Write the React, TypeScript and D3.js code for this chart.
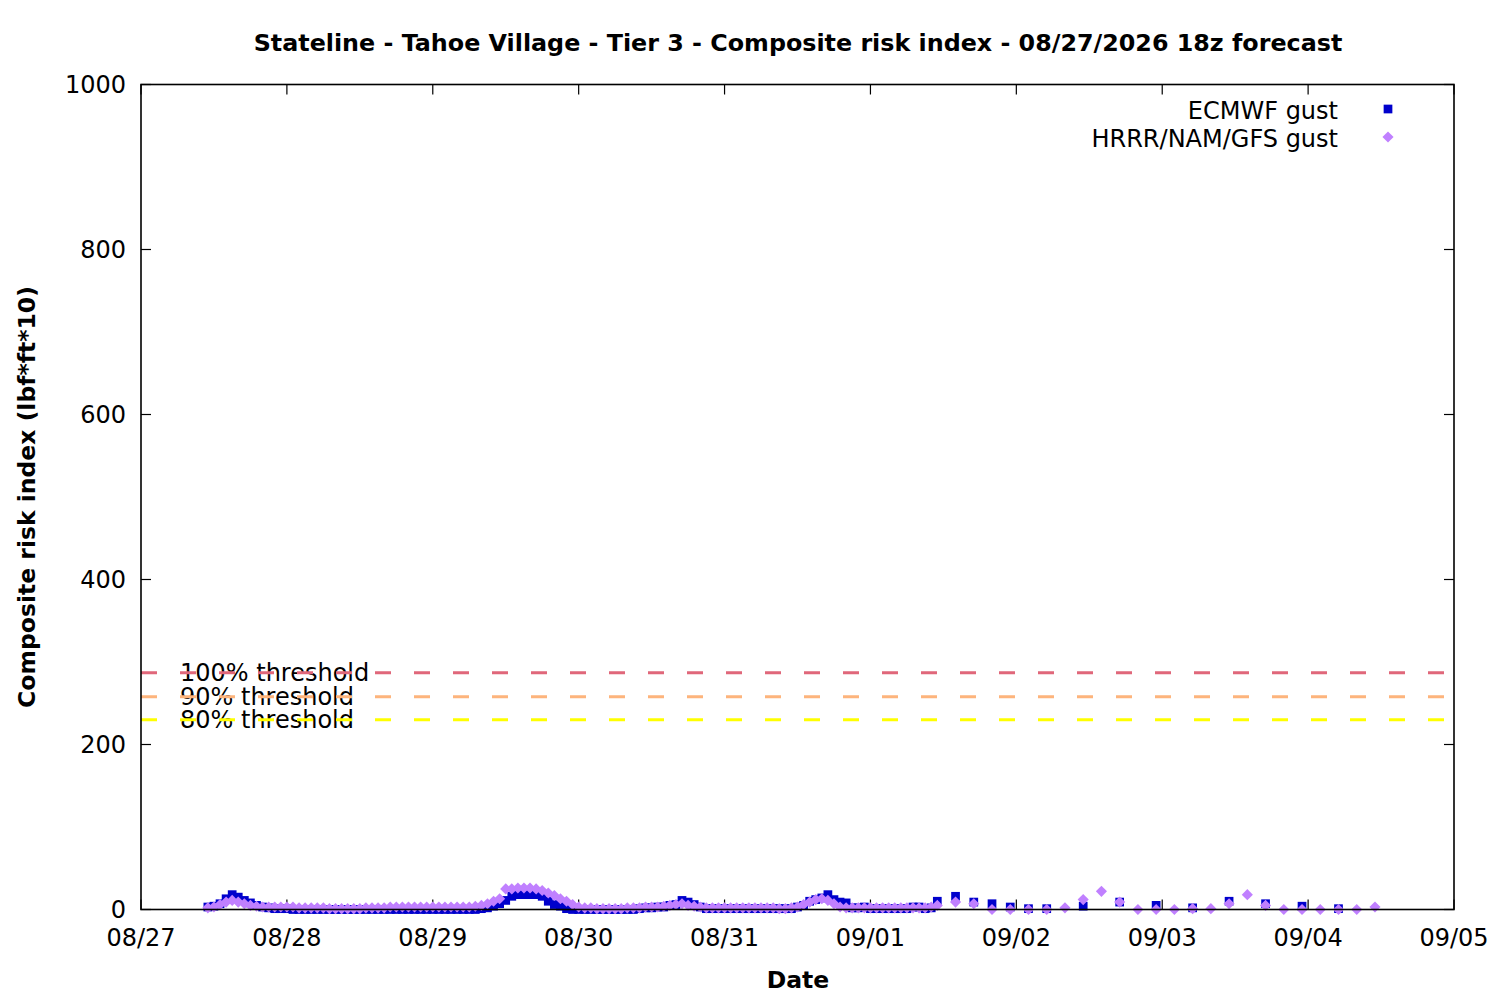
import React from 'react'
import * as d3 from 'd3'

// hourly / 3-hourly / 6-hourly values (local time)
const ecmwfHourlyStart = Date.UTC(2026, 7, 27, 11)
const ecmwfHourly = [
  3, 4, 7, 13, 18, 15, 11, 8, 5, 3,
  2, 1, 1, 1, 0, 0, 0, 0, 0, 0,
  0, 0, 0, 0, 0, 0, 0, 0, 0, 0,
  0, 0, 0, 0, 0, 0, 0, 0, 0, 0,
  0, 0, 0, 0, 0, 1, 2, 4, 7, 11,
  16, 18, 18, 18, 18, 16, 10, 6, 4, 1,
  0, 0, 0, 0, 0, 0, 0, 0, 0, 0,
  0, 1, 2, 2, 3, 3, 5, 6, 11, 9,
  6, 3, 1, 1, 1, 1, 1, 1, 1, 1,
  1, 1, 1, 1, 1, 1, 1, 3, 5, 10,
  12, 14, 18, 12, 9, 8, 2, 2, 3, 1,
  1, 1, 1, 1, 1, 1, 3, 3, 1, 2, 10,
]
const ecmwf3hStart = Date.UTC(2026, 8, 1, 14)
const ecmwf3h = [16, 9, 7, 3, 1, 1]
const ecmwf6hStart = Date.UTC(2026, 8, 2, 11)
const ecmwf6h = [4, 9, 5, 2, 10, 7, 4, 1]

const hrrrHourlyStart = Date.UTC(2026, 7, 27, 11)
const hrrrHourly = [
  2, 3, 6, 9, 11, 9, 7, 5, 4, 3,
  3, 3, 3, 3, 3, 2, 2, 2, 2, 2,
  1, 1, 1, 1, 1, 1, 2, 2, 2, 2,
  3, 3, 3, 3, 3, 3, 3, 3, 3, 3,
  3, 3, 3, 3, 4, 5, 7, 10, 13, 25,
  25, 26, 26, 26, 25, 23, 20, 17, 13, 10,
  6, 3, 2, 2, 1, 1, 1, 1, 1, 2,
  2, 2, 3, 3, 3, 4, 5, 6, 7, 5,
  4, 3, 2, 2, 2, 2, 2, 2, 2, 2,
  2, 2, 2, 2, 1, 1, 2, 3, 6, 9,
  12, 13, 11, 7, 3, 2, 2, 2, 2, 2,
  2, 2, 2, 2, 2, 2, 2, 2, 2, 3, 5,
]
const hrrr3hStart = Date.UTC(2026, 8, 1, 14)
const hrrr3h = [9, 7, 0, 0, 0, 0, 2, 12, 22, 9, 0, 0, 0, 1, 1, 7, 18, 5, 0, 0, 0, 0, 0, 3]

const thresholdLabels = ['100% threshold', '90% threshold', '80% threshold']
const thresholdValues = [287, 258, 230]
const thresholdColors = ['#e0677a', '#fdb47c', '#ffff00']

const yTicks = [0, 200, 400, 600, 800, 1000]
const legendLabels = ['ECMWF gust', 'HRRR/NAM/GFS gust']

const HOUR = 3600 * 1000
const seg = (start: number, stepH: number, vals: number[]) =>
  vals.map((v, i) => ({ t: new Date(start + i * stepH * HOUR), v }))

const ecmwf = [
  ...seg(ecmwfHourlyStart, 1, ecmwfHourly),
  ...seg(ecmwf3hStart, 3, ecmwf3h),
  ...seg(ecmwf6hStart, 6, ecmwf6h),
]
const hrrr = [...seg(hrrrHourlyStart, 1, hrrrHourly), ...seg(hrrr3hStart, 3, hrrr3h)]

const FONT = 'DejaVu Sans'
const BLUE = '#0000cc'
const PURPLE = '#c080ff'
const FS = 24

export default function App() {
  const W = 1500
  const H = 1000
  const left = 141
  const right = 1454
  const top = 84.5
  const bottom = 909.5

  const x = d3
    .scaleUtc()
    .domain([new Date(Date.UTC(2026, 7, 27)), new Date(Date.UTC(2026, 8, 5))])
    .range([left, right])
  const y = d3.scaleLinear().domain([0, 1000]).range([bottom, top])
  const xTicks = x.ticks(d3.utcDay.every(1)!)
  const fmt = d3.utcFormat('%m/%d')

  const squarePath = d3.symbol(d3.symbolSquare, 76)()!
  const diamondPath = d3.symbol(d3.symbolSquare, 62)()!

  return (
    <svg
      width={W}
      height={H}
      style={{ position: 'absolute', left: 0, top: 0, background: '#fff' }}
      fontFamily={FONT}
    >
      <rect width={W} height={H} fill="#fff" />
      <text x={798} y={51} textAnchor="middle" fontSize={23.8} fontWeight="bold">
        Stateline - Tahoe Village - Tier 3 - Composite risk index - 08/27/2026 18z forecast
      </text>

      {/* ticks */}
      {xTicks.map((t, i) => (
        <g key={'x' + i}>
          <line x1={x(t)} x2={x(t)} y1={bottom} y2={bottom - 10} stroke="#000" strokeWidth={1.2} />
          <line x1={x(t)} x2={x(t)} y1={top} y2={top + 10} stroke="#000" strokeWidth={1.2} />
          <text x={x(t)} y={946} textAnchor="middle" fontSize={FS}>
            {fmt(t)}
          </text>
        </g>
      ))}
      {yTicks.map((v) => (
        <g key={'y' + v}>
          <line x1={left} x2={left + 10} y1={y(v)} y2={y(v)} stroke="#000" strokeWidth={1.2} />
          <line x1={right} x2={right - 10} y1={y(v)} y2={y(v)} stroke="#000" strokeWidth={1.2} />
          <text x={126} y={y(v)} dy="0.36em" textAnchor="end" fontSize={FS}>
            {v}
          </text>
        </g>
      ))}

      {/* threshold labels, lines drawn over them */}
      {thresholdLabels.map((l, i) => (
        <text key={l} x={180} y={y(thresholdValues[i])} dy="0.36em" fontSize={FS}>
          {l}
        </text>
      ))}
      {thresholdValues.map((v, i) => (
        <line
          key={'th' + i}
          x1={left}
          x2={right}
          y1={y(v)}
          y2={y(v)}
          stroke={thresholdColors[i]}
          strokeWidth={3}
          strokeDasharray="16 23"
        />
      ))}

      {/* series */}
      {ecmwf.map((d, i) => (
        <path key={'e' + i} d={squarePath} transform={`translate(${x(d.t)},${y(d.v)})`} fill={BLUE} />
      ))}
      {hrrr.map((d, i) => (
        <path
          key={'h' + i}
          d={diamondPath}
          transform={`translate(${x(d.t)},${y(d.v)}) rotate(45)`}
          fill={PURPLE}
        />
      ))}

      {/* legend */}
      <text x={1338} y={110} dy="0.36em" textAnchor="end" fontSize={FS}>
        {legendLabels[0]}
      </text>
      <path d={squarePath} transform="translate(1388,109)" fill={BLUE} />
      <text x={1338} y={138} dy="0.36em" textAnchor="end" fontSize={FS}>
        {legendLabels[1]}
      </text>
      <path d={diamondPath} transform="translate(1388,137) rotate(45)" fill={PURPLE} />

      {/* frame */}
      <rect
        x={left}
        y={top}
        width={right - left}
        height={bottom - top}
        fill="none"
        stroke="#000"
        strokeWidth={1.6}
      />

      {/* axis titles */}
      <text x={798} y={988} textAnchor="middle" fontSize={23.5} fontWeight="bold">
        Date
      </text>
      <text
        transform="translate(27,497) rotate(-90)"
        dy="0.36em"
        textAnchor="middle"
        fontSize={23.5}
        fontWeight="bold"
      >
        Composite risk index (lbf*ft*10)
      </text>
    </svg>
  )
}
